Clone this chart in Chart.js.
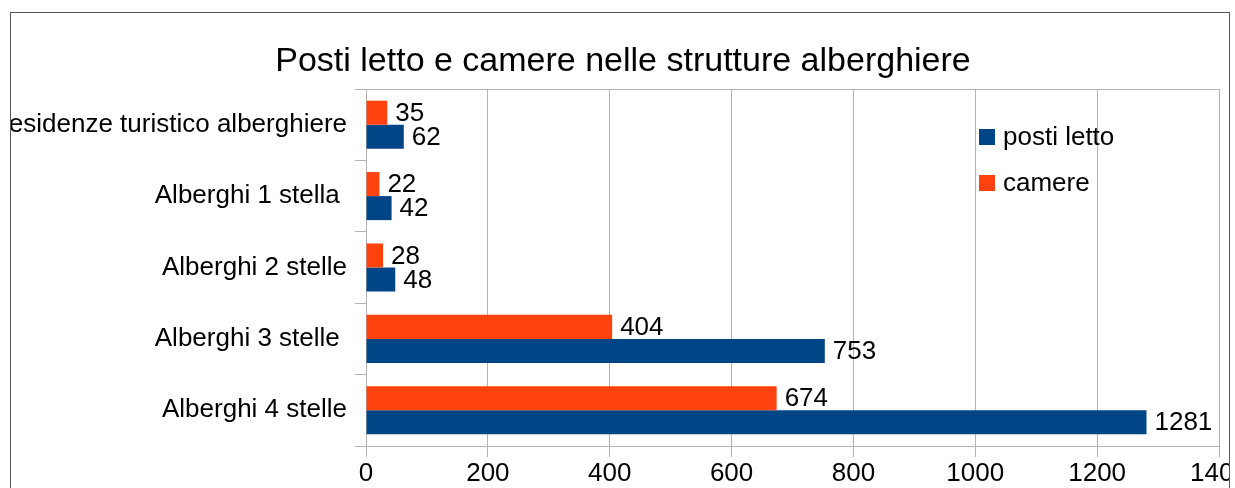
<!DOCTYPE html>
<html>
<head>
<meta charset="utf-8">
<script src="https://cdn.jsdelivr.net/npm/chart.js@4"></script>
<style>
  body { margin: 0; background: #fff; overflow: hidden; }
  #frame {
    position: absolute; left: 10px; top: 12px;
    width: 1218px; height: 490px;
    border: 1px solid #555; overflow: hidden;
  }
  #chart { position: absolute; left: 0; top: 0; }
</style>
</head>
<body>
<div id="frame"><canvas id="chart" width="1250" height="475"></canvas></div>
<script>
const categories = ['Residenze turistico alberghiere', 'Alberghi 1 stella ', 'Alberghi 2 stelle', 'Alberghi 3 stelle ', 'Alberghi 4 stelle'];
const camere = [35, 22, 28, 404, 674];
const postiLetto = [62, 42, 48, 753, 1281];
const xTicks = [0, 200, 400, 600, 800, 1000, 1200, 1400];
const chartTitle = 'Posti letto e camere nelle strutture alberghiere';

const FONT = 'Liberation Sans';
const SIZE = 26;
const gridGray = '#b3b3b3';

// title drawn by hand so it stays centred on the whole frame
const frameTitle = {
    id: 'frameTitle',
    afterDraw(chart) {
        const c = chart.ctx;
        c.save();
        c.font = '34px "' + FONT + '"';
        c.fillStyle = '#000';
        c.textAlign = 'center';
        c.textBaseline = 'middle';
        c.fillText(chartTitle, 612, 49);
        c.restore();
    }
};

// value labels at the end of each bar
const barLabels = {
    id: 'barLabels',
    afterDatasetsDraw(chart) {
        const c = chart.ctx;
        c.save();
        c.font = SIZE + 'px "' + FONT + '"';
        c.fillStyle = '#000';
        c.textAlign = 'left';
        c.textBaseline = 'middle';
        chart.data.datasets.forEach((ds, i) => {
            chart.getDatasetMeta(i).data.forEach((bar, j) => {
                c.fillText(String(ds.data[j]), bar.x + 8, bar.y + 1);
            });
        });
        c.restore();
    }
};

// legend drawn inside the plot, posti letto first
const innerLegend = {
    id: 'innerLegend',
    afterDraw(chart) {
        const c = chart.ctx;
        const a = chart.chartArea;
        const items = chart.data.datasets.slice().reverse();
        c.save();
        c.font = SIZE + 'px "' + FONT + '"';
        c.textAlign = 'left';
        c.textBaseline = 'middle';
        items.forEach((ds, i) => {
            const x = a.right - 240;
            const y = a.top + 40 + i * 46;
            c.fillStyle = ds.backgroundColor;
            c.fillRect(x, y, 16, 16);
            c.fillStyle = '#000';
            c.fillText(ds.label, x + 24, y + 9);
        });
        c.restore();
    }
};

new Chart(document.getElementById('chart'), {
    type: 'bar',
    data: {
        labels: categories,
        datasets: [{
            label: 'camere',
            data: camere,
            backgroundColor: '#ff420e'
        }, {
            label: 'posti letto',
            data: postiLetto,
            backgroundColor: '#004586'
        }]
    },
    options: {
        indexAxis: 'y',
        responsive: false,
        devicePixelRatio: 1,
        animation: false,
        categoryPercentage: 0.673,
        barPercentage: 1,
        layout: { padding: { left: 0, right: 42, top: 76, bottom: 0 } },
        plugins: {
            legend: { display: false },
            tooltip: { enabled: false },
            title: { display: false }
        },
        scales: {
            x: {
                min: 0,
                max: 1400,
                afterBuildTicks: s => { s.ticks = xTicks.map(v => ({ value: v })); },
                afterFit: s => { s.height = 42; },
                grid: { color: gridGray, tickColor: gridGray, tickLength: 11 },
                border: { color: gridGray },
                ticks: {
                    color: '#000',
                    padding: 1,
                    font: { family: FONT, size: SIZE },
                    callback: v => String(v)
                }
            },
            y: {
                afterFit: s => { s.width = 355; },
                grid: {
                    offset: true,
                    color: ctx => ctx.index === 0 ? gridGray : 'rgba(0,0,0,0)',
                    tickColor: gridGray,
                    tickLength: 11
                },
                border: { color: gridGray },
                ticks: { color: '#000', padding: 8, font: { family: FONT, size: SIZE } }
            }
        }
    },
    plugins: [barLabels, innerLegend, frameTitle]
});
</script>
</body>
</html>
